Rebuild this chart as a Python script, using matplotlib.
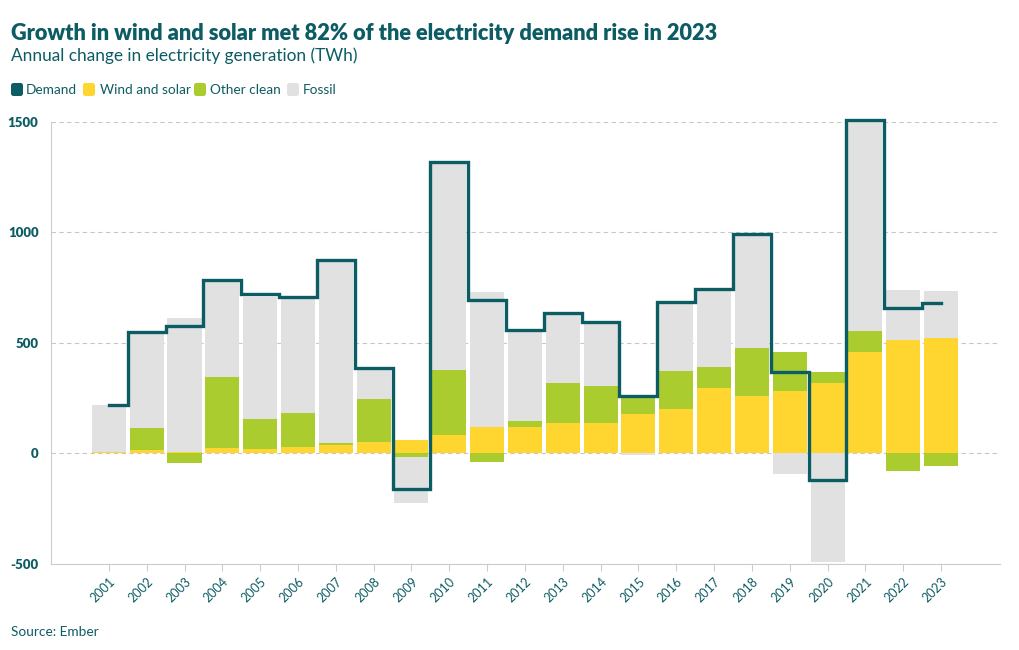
import matplotlib
matplotlib.use("Agg")
import matplotlib.pyplot as plt
from matplotlib.patches import FancyBboxPatch
import numpy as np

# annual change in electricity generation / demand (TWh)
years = list(range(2001, 2024))
wind_solar = [5, 14, 7, 23, 20, 29, 38, 53, 60, 82, 122, 122, 137, 136, 180, 201, 296, 258, 282, 317, 458, 514, 523]
other_clean = [1, 102, -41, 323, 135, 155, 9, 193, -18, 296, -39, 24, 182, 170, 74, 173, 95, 218, 179, 50, 98, -80, -56]
fossil = [213, 428, 607, 437, 555, 518, 825, 136, -204, 943, 608, 411, 315, 283, -6, 306, 345, 518, -94, -491, 954, 225, 214]
demand = [220, 551, 577, 785, 720, 710, 875, 388, -162, 1321, 695, 559, 637, 594, 260, 687, 746, 995, 367, -118, 1510, 657, 683]

series = [("Wind and solar", wind_solar, "#ffd530"),
          ("Other clean", other_clean, "#aacc2e"),
          ("Fossil", fossil, "#e1e1e1")]
teal = "#0c5c63"

plt.rcParams['font.family'] = ['Lato', 'DejaVu Sans']
plt.rcParams['axes.unicode_minus'] = False

fig = plt.figure(figsize=(10.2, 6.5), dpi=100)
ax = fig.add_axes([51 / 1020, 1 - 564 / 650, 949 / 1020, 442 / 650])

# stack positives upward and negatives downward, like a relative bar mode
pos = np.zeros(len(years))
neg = np.zeros(len(years))
for name, vals, col in series:
    vals = np.array(vals, dtype=float)
    bottoms = np.where(vals >= 0, pos, neg)
    ax.bar(years, vals, bottom=bottoms, width=0.9, color=col, linewidth=0, zorder=2)
    pos = pos + np.clip(vals, 0, None)
    neg = neg + np.clip(vals, None, 0)

ax.step(years, demand, where='mid', color=teal, lw=2.4, zorder=3,
        solid_joinstyle='miter', clip_on=False)

ax.set_xlim(1999.47, 2024.56)
ax.set_ylim(-500, 1500)
ax.set_yticks([-500, 0, 500, 1000, 1500])
ax.set_xticks(years)
ax.set_xticklabels([str(y) for y in years], rotation=45, ha='right',
                   rotation_mode='anchor', fontsize=9, color=teal)
for lab in ax.get_yticklabels():
    lab.set_fontweight('heavy')
ax.tick_params(axis='y', length=0, pad=9, labelsize=9.5, labelcolor=teal)
ax.tick_params(axis='x', length=5, color='#cccccc', pad=3)
ax.grid(axis='y', linestyle=(0, (4, 3)), color='#c8c8c8', lw=0.8, zorder=0)
for s in ['top', 'right']:
    ax.spines[s].set_visible(False)
ax.spines['left'].set_color('#cccccc')
ax.spines['bottom'].set_color('#cccccc')

# titles
fig.text(11 / 1020, 1 - 40 / 650, "Growth in wind and solar met 82% of the electricity demand rise in 2023",
         fontsize=15.7, fontweight='heavy', color=teal, va='baseline')
fig.text(11 / 1020, 1 - 61 / 650, "Annual change in electricity generation (TWh)",
         fontsize=12.4, color=teal, va='baseline')

# legend
legend_items = [("Demand", teal, 11, 26), ("Wind and solar", "#ffd530", 83, 100),
                ("Other clean", "#aacc2e", 194, 210), ("Fossil", "#e1e1e1", 287, 303)]
for label, col, bx, tx in legend_items:
    fig.patches.append(FancyBboxPatch((bx, 650 - 96), 12, 13, boxstyle="round,pad=0,rounding_size=2.5",
                                      transform=None, facecolor=col, edgecolor='none'))
    fig.text(tx / 1020, 1 - 94 / 650, label, fontsize=9.8, color=teal, va='baseline')

fig.text(11 / 1020, 1 - 636 / 650, "Source: Ember", fontsize=9.8, color=teal, va='baseline')

fig.savefig("out.png", dpi=100)
